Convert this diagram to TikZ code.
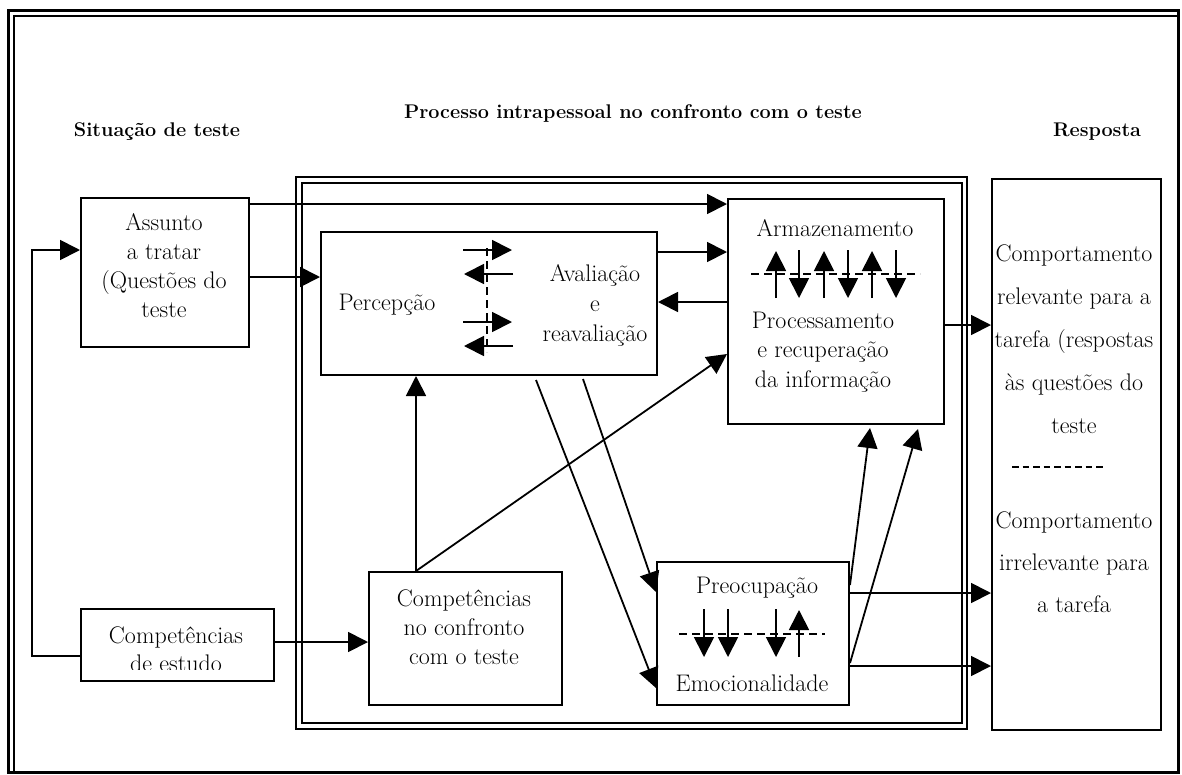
\documentclass[tikz,border=0pt]{standalone}
\usepackage{fontspec}
\usetikzlibrary{arrows.meta}
\begin{document}
\begin{tikzpicture}[
  x=1pt, y=-1pt,
  box/.style={draw, line width=2pt, inner sep=0pt, anchor=north west},
  txt/.style={align=center, inner sep=0pt, font=\fontsize{24}{29}\selectfont},
  head/.style={inner sep=0pt, font=\fontsize{19.8}{24}\bfseries\selectfont},
  arr/.style={line width=1.8pt, -{Triangle[length=20pt,width=20pt]}},
  dashline/.style={line width=1.8pt, dash pattern=on 8pt off 5pt}
]
  \useasboundingbox (0,0) rectangle (1182,774);
  % frames
  \draw[line width=3pt] (8,10) rectangle (1178,772);
  \draw[line width=2pt] (14,772) -- (14,16) -- (1178,16);
  \draw[line width=2.8pt] (296,177) rectangle (967,729);
  \draw[line width=2pt] (302,183) rectangle (962,723);

  % headings
  \node[head] (h-sit) at (157,132) {Situação de teste};
  \node[head] (h-proc) at (633,113) {Processo intrapessoal no confronto com o teste};
  \node[head] (h-resp) at (1097,132) {Resposta};

  % boxes
  \node[box, minimum width=168pt, minimum height=149pt] (assunto) at (80,197) {};
  \node[box, minimum width=193pt, minimum height=72pt] (estudo) at (80,608) {};
  \node[box, minimum width=336pt, minimum height=143pt] (percep) at (320,231) {};
  \node[box, minimum width=193pt, minimum height=133pt] (confr) at (368,571) {};
  \node[box, minimum width=216pt, minimum height=225pt] (armaz) at (727,198) {};
  \node[box, minimum width=192pt, minimum height=143pt] (preoc) at (656,561) {};
  \node[box, minimum width=169pt, minimum height=551pt] (resp) at (991,178) {};

  % texts
  \node[txt] (t-assunto) at (164,266) {Assunto\\a tratar\\(Questões do\\teste};
  \begin{scope}
    \clip (80,608) rectangle (273,669);
    \node[txt, font=\fontsize{24}{28}\selectfont] (t-estudo) at (176,649) {Competências\\de estudo};
  \end{scope}
  \node[txt] (t-percep) at (387,305) {Percepção};
  \node[txt, font=\fontsize{24}{30}\selectfont] (t-aval) at (595,305) {Avaliação\\e\\reavaliação};
  \node[txt] (t-confr) at (464,627) {Competências\\no confronto\\com o teste};
  \node[txt] (t-armaz) at (835,228) {Armazenamento};
  \node[txt, font=\fontsize{24}{29.5}\selectfont] (t-proc) at (823,352) {Processamento\\e recuperação\\da informação};
  \node[txt] (t-preoc) at (757,588) {Preocupação};
  \node[txt] (t-emoc) at (752,683) {Emocionalidade};
  \node[txt, font=\fontsize{24}{43}\selectfont] (t-relev) at (1074,339) {Comportamento\\relevante para a\\tarefa (respostas\\às questões do\\teste};
  \node[txt, font=\fontsize{24}{42}\selectfont] (t-irrel) at (1074,562) {Comportamento\\irrelevante para\\a tarefa};
  \draw[line width=1.8pt, dash pattern=on 6.5pt off 4pt] (1012,467) -- (1104,467);

  % inner arrows
  \foreach \y in {250,322} \draw[arr] (463,\y) -- (512,\y);
  \foreach \y in {274,346} \draw[arr] (513,\y) -- (464,\y);
  \draw[dashline] (487,248) -- (487,352);
  \draw[dashline] (751,274) -- (920,274);
  \foreach \x in {776,824,872} \draw[arr] (\x,298) -- (\x,251);
  \foreach \x in {799,848,896} \draw[arr] (\x,250) -- (\x,298);
  \draw[dashline] (679,634) -- (825,634);
  \foreach \x in {704,728,776} \draw[arr] (\x,609) -- (\x,657);
  \draw[arr] (799,657) -- (799,610);

  % connectors
  \coordinate (fb) at (32,250);
  \draw[arr] ([yshift=-48pt]estudo.north west) -| (fb) -- ([yshift=-53pt]assunto.north west);
  \draw[arr] ([yshift=-7pt]assunto.north east) -- ([yshift=-6pt]armaz.north west);
  \draw[arr] ([yshift=-80pt]assunto.north east) -- ([yshift=-46pt]percep.north west);
  \draw[arr] ([yshift=-34pt]estudo.north east) -- ([yshift=-71pt]confr.north west);
  \draw[arr] ([xshift=48pt]confr.north west) -- ([xshift=96pt]percep.south west);
  \draw[arr] ([xshift=48pt]confr.north west) -- ([yshift=-156pt]armaz.north west);
  \draw[arr] ([yshift=-21pt]percep.north east) -- ([yshift=-54pt]armaz.north west);
  \draw[arr] ([yshift=-104pt]armaz.north west) -- ([yshift=-71pt]percep.north east);
  \draw[arr] ([xshift=216pt,yshift=-4pt]percep.south west) -- ([yshift=-127pt]preoc.north west);
  \draw[arr] ([xshift=263pt,yshift=-3pt]percep.south west) -- ([yshift=-31pt]preoc.north west);
  \draw[arr] ([yshift=-24pt]preoc.north east) -- ([xshift=143pt,yshift=-3pt]armaz.south west);
  \draw[arr] ([yshift=-102pt]preoc.north east) -- ([xshift=191pt,yshift=-4pt]armaz.south west);
  \draw[arr] ([yshift=-127pt]armaz.north east) -- ([yshift=-147pt]resp.north west);
  \draw[arr] ([yshift=-32pt]preoc.north east) -- ([yshift=-415pt]resp.north west);
  \draw[arr] ([yshift=-105pt]preoc.north east) -- ([yshift=-488pt]resp.north west);
\end{tikzpicture}
\end{document}
